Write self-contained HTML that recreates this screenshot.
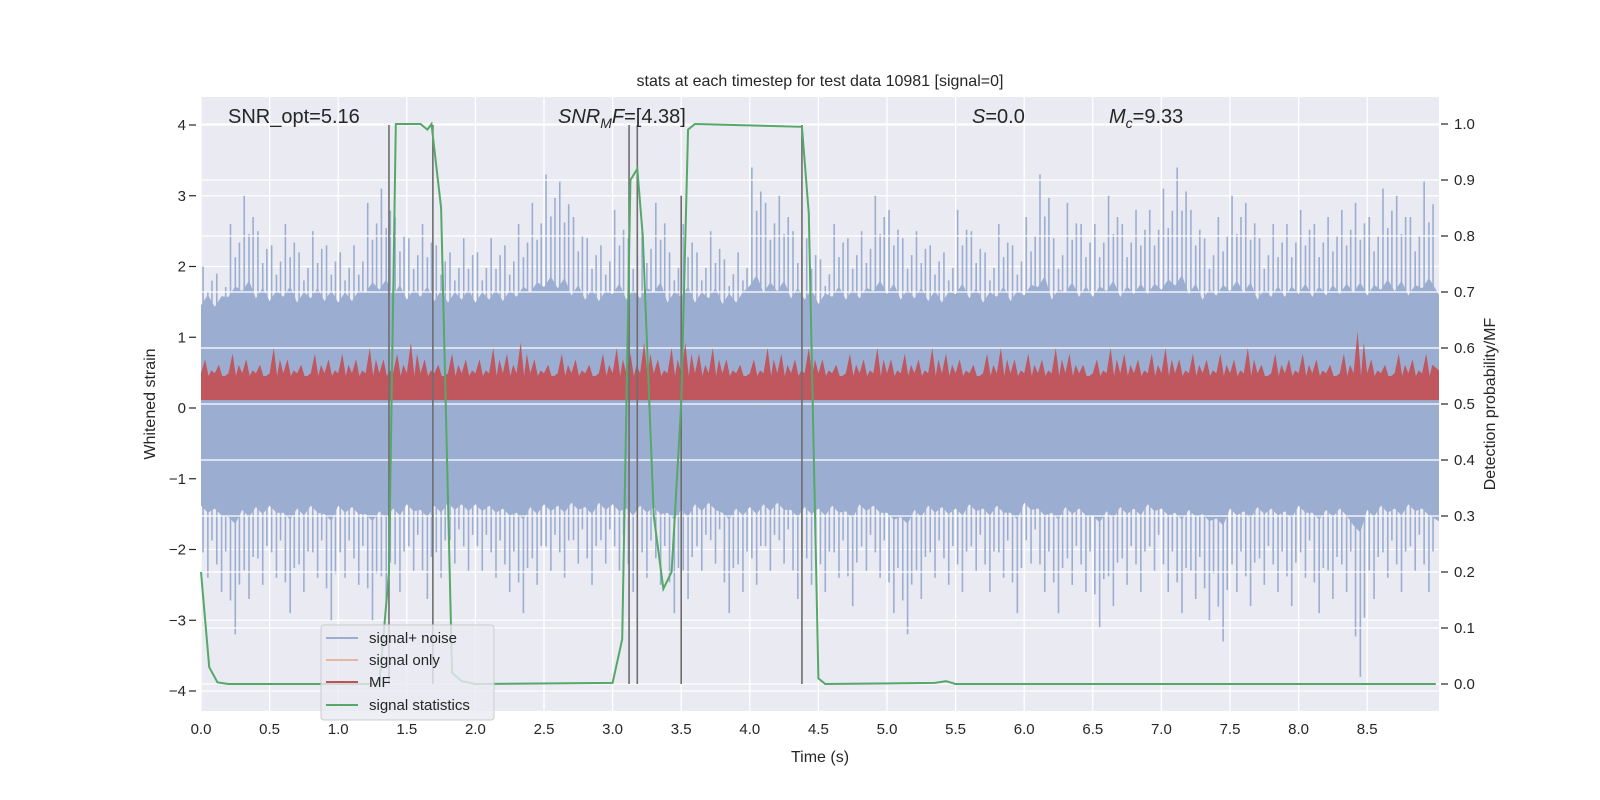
<!DOCTYPE html>
<html><head><meta charset="utf-8"><style>
html,body{margin:0;padding:0;background:#fff;}
svg{display:block;font-family:"Liberation Sans","DejaVu Sans",sans-serif;}
</style></head><body>
<svg id="chart" width="1600" height="800" viewBox="0 0 1600 800" xmlns="http://www.w3.org/2000/svg">
<rect x="201" y="97" width="1238" height="614" fill="#eaeaf2"/>
<g id="grid"></g>
<g id="noise"></g>
<g id="grid2"></g>
<g id="mf"></g>
<g id="vlines"></g>
<g id="stat"></g>
<g id="axes"></g>
<text x="820" y="86" font-size="16" text-anchor="middle" fill="#262626">stats at each timestep for test data 10981 [signal=0]</text>
<text x="228" y="123" font-size="20" fill="#262626">SNR_opt=5.16</text>
<text x="558" y="123" font-size="20" fill="#262626"><tspan font-style="italic">SNR</tspan><tspan font-style="italic" font-size="14" dy="5">M</tspan><tspan font-style="italic" dy="-5">F</tspan>=[4.38]</text>
<text x="972" y="123" font-size="20" fill="#262626"><tspan font-style="italic">S</tspan>=0.0</text>
<text x="1109" y="123" font-size="20" fill="#262626"><tspan font-style="italic">M</tspan><tspan font-style="italic" font-size="14" dy="5">c</tspan><tspan dy="-5">=9.33</tspan></text>
<text x="820" y="762" font-size="16" text-anchor="middle" fill="#262626">Time (s)</text>
<text x="0" y="0" font-size="16" text-anchor="middle" fill="#262626" transform="translate(155,404) rotate(-90)">Whitened strain</text>
<text x="0" y="0" font-size="16" text-anchor="middle" fill="#262626" transform="translate(1495,404) rotate(-90)">Detection probability/MF</text>
<g>
<rect x="321" y="625" width="173" height="95" rx="3" fill="#eaeaf2" fill-opacity="0.8" stroke="#cccccc"/>
<line x1="326" y1="638" x2="358" y2="638" stroke="#9baed1" stroke-width="2"/>
<text x="369" y="643" font-size="15" fill="#262626">signal+ noise</text>
<line x1="326" y1="660" x2="358" y2="660" stroke="#e9b4a0" stroke-width="2"/>
<text x="369" y="665" font-size="15" fill="#262626">signal only</text>
<line x1="326" y1="682" x2="358" y2="682" stroke="#c44e52" stroke-width="2"/>
<text x="369" y="687" font-size="15" fill="#262626">MF</text>
<line x1="326" y1="705" x2="358" y2="705" stroke="#55a868" stroke-width="2"/>
<text x="369" y="710" font-size="15" fill="#262626">signal statistics</text>
</g>
</svg>
<script>
const xTicks=[0,0.5,1,1.5,2,2.5,3,3.5,4,4.5,5,5.5,6,6.5,7,7.5,8,8.5];
const leftTicks=[-4,-3,-2,-1,0,1,2,3,4];
const rightTicks=[0,0.1,0.2,0.3,0.4,0.5,0.6,0.7,0.8,0.9,1.0];
const noiseUpper=[2.0,1.9,2.6,3.0,2.5,2.3,2.6,2.2,2.5,2.3, 2.2,2.3,2.9,3.1,2.7,2.4,2.6,2.3,2.2,2.4, 2.2,2.4,2.3,2.6,2.9,3.3,3.2,2.7,2.4,2.3, 2.8,2.4,2.5,2.9,2.2,2.6,2.2,2.5,2.1,2.2, 3.4,2.9,3.0,2.5,2.4,2.1,2.6,2.4,2.5,3.0, 2.8,2.4,2.5,2.3,2.2,2.8,2.5,2.2,2.6,2.3, 2.7,3.3,2.4,2.9,2.6,2.6,3.0,2.6,2.8,2.8, 3.1,3.4,2.8,2.4,2.7,3.0,2.9,2.4,2.6,2.6, 2.8,2.6,2.7,2.8,2.9,2.7,3.1,3.0,2.7,3.2];
const noiseLower=[-2.4,-2.6,-3.2,-2.7,-2.5,-2.4,-2.9,-2.6,-2.4,-3.0, -2.4,-2.5,-3.0,-2.8,-2.6,-2.3,-2.7,-2.4,-2.2,-2.3, -2.3,-2.4,-2.6,-2.9,-2.5,-2.3,-2.4,-2.2,-2.5,-2.2, -2.3,-2.6,-2.4,-2.5,-2.9,-2.7,-2.3,-2.2,-2.9,-2.6, -2.5,-2.3,-2.2,-2.7,-2.5,-2.6,-2.4,-2.8,-2.3,-2.4, -2.9,-3.2,-2.7,-2.4,-2.5,-2.6,-2.3,-2.6,-2.4,-2.9, -2.2,-2.6,-2.9,-2.5,-2.6,-3.1,-2.8,-2.5,-2.6,-2.3, -2.6,-2.9,-2.7,-3.0,-3.3,-2.6,-2.8,-2.5,-2.6,-2.8, -2.4,-2.9,-2.7,-2.6,-3.8,-2.7,-2.4,-2.6,-2.3,-2.6];
const mfHigh=[0.58,0.57,0.59,0.58,0.57,0.6,0.58,0.57,0.59,0.58, 0.59,0.58,0.6,0.58,0.59,0.61,0.58,0.57,0.59,0.58, 0.58,0.6,0.59,0.61,0.58,0.57,0.59,0.58,0.57,0.59, 0.6,0.59,0.61,0.58,0.6,0.61,0.59,0.6,0.58,0.57, 0.58,0.6,0.59,0.58,0.6,0.58,0.57,0.59,0.58,0.6, 0.58,0.59,0.58,0.6,0.59,0.58,0.57,0.59,0.6,0.58, 0.59,0.58,0.6,0.59,0.57,0.58,0.6,0.59,0.58,0.59, 0.6,0.58,0.59,0.58,0.59,0.58,0.6,0.57,0.59,0.58, 0.59,0.58,0.57,0.59,0.63,0.58,0.57,0.59,0.58,0.59];
const statT=[0,0.06,0.12,0.2,1.3,1.37,1.42,1.5,1.6,1.65,1.68,1.75,1.83,1.9,2.0,3.0,3.07,3.13,3.18,3.22,3.3,3.37,3.43,3.5,3.55,3.6,4.38,4.43,4.5,4.55,5.35,5.43,5.5,9.0];
const statP=[0.2,0.03,0.003,0,0,0.2,1.0,1.0,1.0,0.99,1.0,0.85,0.02,0.005,0,0.002,0.08,0.9,0.92,0.8,0.3,0.17,0.2,0.5,0.99,1.0,0.995,0.84,0.01,0,0.002,0.005,0,0];
const markerT=[1.37,1.69,3.12,3.18,3.5,4.38];
const markerTop=[4,4,4,4,3,4];

const NS='http://www.w3.org/2000/svg';
const X0=201,X1=1439,XSC=137.2;
const xs=t=>X0+t*XSC;
const yl=v=>408-v*70.75;
const yr=p=>684-p*560;
function mk(tag,parent,attrs){const e=document.createElementNS(NS,tag);for(const k in attrs)e.setAttribute(k,attrs[k]);document.getElementById(parent).appendChild(e);return e;}

// grid
xTicks.forEach(t=>{const e=mk('line','grid',{x1:xs(t),x2:xs(t),y1:97,y2:711,stroke:'#fff','stroke-width':1.3});

});
leftTicks.forEach(v=>{const e=mk('line','grid',{x1:X0,x2:X1,y1:yl(v),y2:yl(v),stroke:'#fff','stroke-width':1.3});

});
rightTicks.forEach(p=>{const e=mk('line','grid2',{x1:X0,x2:X1,y1:yr(p),y2:yr(p),stroke:'#fff','stroke-width':1.3});

});

// noise
const bw=0.1;
let pts=[];
noiseUpper.forEach((u,i)=>{pts.push(xs(i*bw)+','+yl(1.05+0.2*u));pts.push(xs(i*bw+bw*0.5)+','+yl(1.2+0.2*u));});
pts.push(X1+','+yl(1.6));
pts.push(X1+','+yl(-1.6));
for(let i=noiseLower.length-1;i>=0;i--){const l=noiseLower[i];pts.push(xs(i*bw+bw*0.5)+','+yl(-1.0+0.2*l));pts.push(xs(i*bw)+','+yl(-0.9+0.2*l));}
const band=mk('polygon','noise',{points:pts.join(' '),fill:'#9baed1'});


noiseUpper.forEach((u,i)=>{
 const l=noiseLower[i];
 [[0.15,1,0.85],[0.5,0.82,1],[0.8,0.9,0.78]].forEach(([f,su,sl])=>{
  const x=xs(i*bw+bw*f);
  const e=mk('line','noise',{x1:x,x2:x,y1:yl(u*su),y2:yl(l*sl),stroke:'#9baed1','stroke-width':1.6});
  
  
 });
});

// MF
let mp=[];
const mw=0.1;
mfHigh.forEach((h,i)=>{mp.push(xs(i*mw)+','+yr(0.555));mp.push(xs(i*mw+mw*0.3)+','+yr(h));mp.push(xs(i*mw+mw*0.55)+','+yr(0.55));mp.push(xs(i*mw+mw*0.75)+','+yr(h-0.02));});
mp.push(X1+','+yr(0.56));mp.push(X1+','+yr(0.507));mp.push(X0+','+yr(0.507));
const mfp=mk('polygon','mf',{points:mp.join(' '),fill:'#c44e52','fill-opacity':0.9});



// markers
markerT.forEach((t,i)=>{const e=mk('line','vlines',{x1:xs(t),x2:xs(t),y1:yl(markerTop[i]),y2:yr(0),stroke:'#6e6e6e','stroke-width':1.6});

});

// stat line
const sp=statT.map((t,i)=>xs(Math.min(t,9.02))+','+yr(statP[i])).join(' ');
const sl=mk('polyline','stat',{points:sp,fill:'none',stroke:'#55a868','stroke-width':2});



// ticks/labels
xTicks.forEach(t=>{const e=mk('text','axes',{x:xs(t),y:734,'font-size':15,'text-anchor':'middle',fill:'#262626'});e.textContent=t.toFixed(1);

});
leftTicks.forEach(v=>{const e=mk('text','axes',{x:186,y:yl(v)+5,'font-size':15,'text-anchor':'end',fill:'#262626'});e.textContent=(v<0?'\u2212'+(-v):''+v);


const k=mk('line','axes',{x1:189,x2:196,y1:yl(v),y2:yl(v),stroke:'#262626','stroke-width':1.2});

});
rightTicks.forEach(p=>{const e=mk('text','axes',{x:1454,y:yr(p)+5,'font-size':15,fill:'#262626'});e.textContent=p.toFixed(1);


const k=mk('line','axes',{x1:1441,x2:1448,y1:yr(p),y2:yr(p),stroke:'#262626','stroke-width':1.2});

});
</script>
</body></html>
